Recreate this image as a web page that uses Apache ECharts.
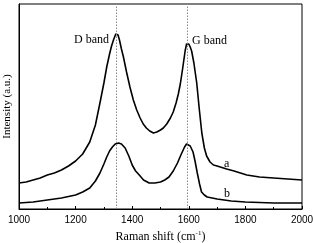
<!DOCTYPE html>
<html><head><meta charset="utf-8">
<script src="https://cdn.jsdelivr.net/npm/echarts@6/dist/echarts.min.js"></script>
<style>html,body{margin:0;padding:0;background:#fff}#c{width:313px;height:243px}</style>
</head><body><div id="c"></div>
<script>
const xTicks = [1000, 1200, 1400, 1600, 1800, 2000];
const bandPositions = [1345, 1595];
const bandLabels = ['D band', 'G band'];
const curveLabels = ['a', 'b'];
const curveA = [
[1000,26],[1025,27],[1050,29],[1075,31],[1100,34],[1125,36],[1150,39],[1175,43],[1200,48],[1225,55],
[1250,67],[1270,84],[1286,106],[1300,126],[1310,142],[1320,155],[1327,163],[1335,170],[1342,175],[1346,177],
[1350,174],[1355,169],[1362,160],[1369,152],[1380,137],[1392,122],[1404,109],[1416,99],[1428,91],[1439,85],
[1450,81],[1462,78],[1475,76],[1487,77],[1500,79],[1510,81],[1522,85],[1535,91],[1545,97],[1555,106],
[1563,115],[1570,125],[1578,140],[1587,158],[1592,165],[1595,167],[1600,165],[1605,162],[1610,158],[1618,146],
[1628,126],[1637,100],[1646,76],[1655,61],[1663,53],[1675,47],[1687,44],[1700,43],[1734,40],[1760,38],
[1805,34],[1850,32],[1900,31],[1950,30],[2000,29]
];
const curveB = [
[1000,6],[1050,7],[1100,9],[1150,11],[1200,14],[1225,17],[1250,21],[1270,28],[1286,36],[1300,45],
[1310,52],[1320,58],[1330,62],[1340,65],[1352,66],[1362,65],[1375,61],[1388,53],[1400,44],[1412,38],
[1425,34],[1440,29],[1460,26],[1480,26],[1500,27],[1515,29],[1530,32],[1545,38],[1560,46],[1572,54],
[1585,62],[1592,65],[1598,65],[1605,63],[1615,57],[1622,48],[1630,36],[1638,25],[1645,17],[1655,14],
[1665,12],[1700,10],[1750,8],[1800,7],[1900,6],[2000,6]
];
const chart = echarts.init(document.getElementById('c'), null, {renderer:'canvas'});
const serif = '"Liberation Serif","DejaVu Serif",serif';
chart.setOption({
  animation:false,
  grid:{left:19,right:11,top:4,bottom:34,containLabel:false,outerBoundsMode:'none',show:true,borderColor:'#000',borderWidth:1,backgroundColor:'transparent'},
  xAxis:{type:'value',min:xTicks[0],max:xTicks[xTicks.length-1],interval:200,
    axisLine:{show:true,lineStyle:{color:'#000',width:1}},
    axisTick:{show:true,inside:true,length:3,lineStyle:{color:'#000'}},
    minorTick:{show:true,splitNumber:2,length:2,lineStyle:{color:'#000'}},
    splitLine:{show:false},
    axisLabel:{color:'#000',fontFamily:'"Liberation Sans",Arial,sans-serif',fontSize:10,margin:6,formatter:v=>String(v)},
    name:'{n|Raman shift (cm}{s|-1}{n|)}',nameLocation:'middle',nameGap:19,
    nameTextStyle:{rich:{n:{fontFamily:serif,fontSize:12,color:'#000'},s:{fontFamily:serif,fontSize:7,color:'#000',verticalAlign:'top',padding:[0,0,6,0]}}}
  },
  yAxis:{type:'value',min:0,max:205,
    axisLine:{show:true,lineStyle:{color:'#000'}},axisTick:{show:false},axisLabel:{show:false},splitLine:{show:false},
    name:'Intensity (a.u.)',nameLocation:'middle',nameGap:6,
    nameTextStyle:{fontFamily:serif,fontSize:11,color:'#000'}
  },
  series:[
    {type:'line',data:curveA,showSymbol:false,symbol:'none',lineStyle:{color:'#000',width:1.6},
      markLine:{silent:true,symbol:'none',label:{show:false},lineStyle:{color:'#888',type:[1.5,1.5],width:1},
        data:bandPositions.map(v=>({xAxis:v}))}},
    {type:'line',data:curveB,showSymbol:false,symbol:'none',lineStyle:{color:'#000',width:1.6}}
  ],
  graphic:[
    {type:'text',left:74,top:34,style:{text:bandLabels[0],font:'12px '+serif,fill:'#000'}},
    {type:'text',left:192,top:35,style:{text:bandLabels[1],font:'12px '+serif,fill:'#000'}},
    {type:'text',left:224,top:158,style:{text:curveLabels[0],font:'12px '+serif,fill:'#000'}},
    {type:'text',left:224,top:188,style:{text:curveLabels[1],font:'12px '+serif,fill:'#000'}}
  ]
});
</script></body></html>
